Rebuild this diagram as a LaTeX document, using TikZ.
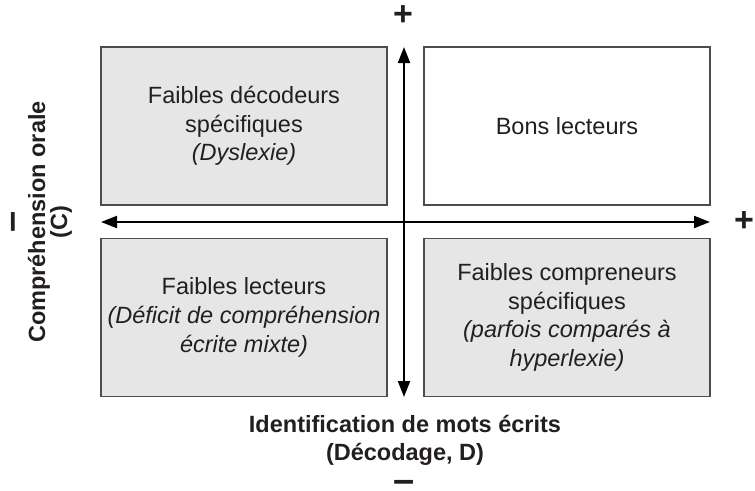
\documentclass[tikz,border=0pt]{standalone}
\usepackage{fontspec}
\setmainfont{Liberation Sans}
\usetikzlibrary{arrows.meta}
\definecolor{txt}{HTML}{231F20}
\definecolor{boxfill}{HTML}{E6E6E7}
\definecolor{boxline}{HTML}{4D4D4F}
\begin{document}
\begin{tikzpicture}[x=1pt,y=-1pt,
  quad/.style={draw=boxline, line width=1.4pt, minimum width=286pt, minimum height=158pt, inner sep=0pt,
    text=txt, align=center, font=\fontsize{23.5}{28.7}\selectfont},
  grey/.style={fill=boxfill},
  axisline/.style={line width=2pt, draw=black, {Triangle[length=16pt,width=12pt]}-{Triangle[length=16pt,width=12pt]}},
  sign/.style={text=txt, font=\bfseries\fontsize{34}{34}\selectfont, inner sep=0pt},
  dashsign/.style={text=txt, font=\bfseries\fontsize{38}{38}\selectfont, inner sep=0pt},
  lab/.style={text=txt, align=center, font=\bfseries\fontsize{23.5}{28}\selectfont, inner sep=0pt}]
\useasboundingbox (0,0) rectangle (755,490);
% quadrants
\node[quad, grey] (tl) at (244,126) {Faibles décodeurs\\spécifiques\\\textit{(Dyslexie)}};
\node[quad] (tr) at (567,126) {Bons lecteurs};
\node[quad, grey] (bl) at (244,317.5) {Faibles lecteurs\\\textit{(Déficit de compréhension}\\\textit{écrite mixte)}};
\node[quad, grey] (br) at (567,317.5) {Faibles compreneurs\\spécifiques\\\textit{(parfois comparés à}\\\textit{hyperlexie)}};
% axes
\coordinate (xl) at (101,222);
\coordinate (xr) at (710,222);
\coordinate (yt) at (404,47);
\coordinate (yb) at (404,397);
\draw[axisline] (xl) -- (xr);
\draw[axisline] (yb) -- (yt);
% signs
\node[sign] (plusT) at (403,16) {+};
\node[sign] (plusR) at (744,222) {+};
\node[dashsign] (minusB) at (404,486) {–};
\node[dashsign, rotate=90] (minusL) at (17,222) {–};
% axis labels
\node[lab] (xlab) at (405,440) {Identification de mots écrits\\(Décodage, D)};
\node[lab, rotate=90] (ylab1) at (39,222) {Compréhension orale};
\node[lab, rotate=90] (ylab2) at (61,222) {(C)};
\end{tikzpicture}
\end{document}
